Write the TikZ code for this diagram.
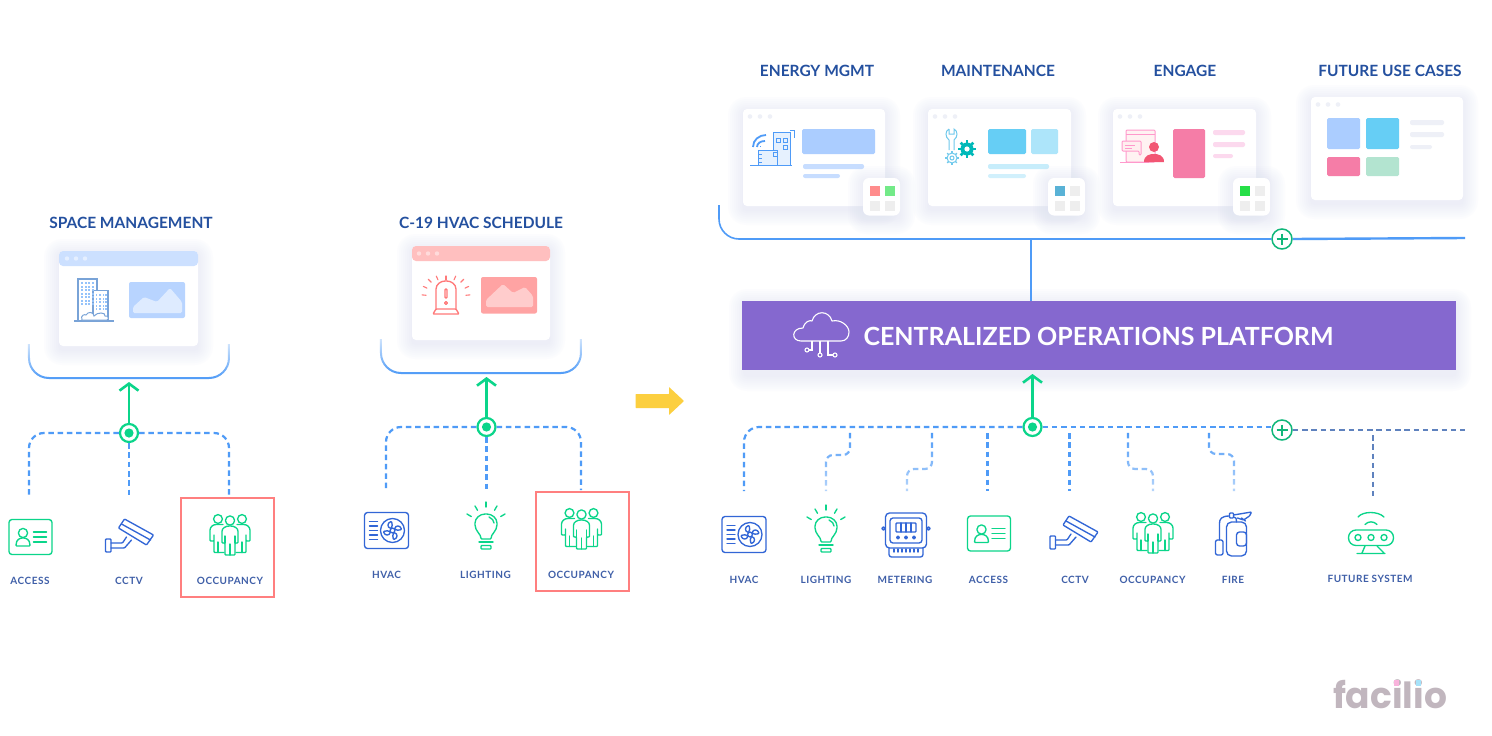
\documentclass[tikz,border=0pt]{standalone}
\usepackage{fontspec}
\setmainfont{Lato}
\newfontfamily\labelfont[LetterSpace=5]{Lato}
\newfontfamily\logofont{Poppins}
\usetikzlibrary{arrows.meta,fadings}

\definecolor{titleBlue}{HTML}{24509F}
\definecolor{labelBlue}{HTML}{3F5FA8}
\definecolor{lineBlue}{HTML}{4F9BF7}
\definecolor{darkBus}{HTML}{5F82BE}
\definecolor{hubGreen}{HTML}{0BD58A}
\definecolor{plusGreen}{HTML}{10B77A}
\definecolor{iconBlue}{HTML}{3266D6}
\definecolor{boxRed}{HTML}{FF7F7F}
\definecolor{platformPurple}{HTML}{8568CF}
\definecolor{shadowBlue}{HTML}{D5DAF2}
\definecolor{dotGrey}{HTML}{EEF0F7}
\definecolor{tileGrey}{HTML}{EEEEEE}

\tikzfading[name=fadedrop, top color=transparent!0, bottom color=transparent!60]
\tikzfading[name=fadeup, bottom color=transparent!0, top color=transparent!75]

\tikzset{
  titletext/.style={font=\fontsize{15.5}{18}\selectfont\bfseries, text=titleBlue, inner sep=0pt},
  labeltext/.style={font=\fontsize{10}{12}\labelfont\bfseries, text=labelBlue, inner sep=0pt},
  bracketline/.style={draw=lineBlue, line width=2pt, rounded corners=20pt, path fading=fadeup},
  busline/.style={draw=lineBlue, line width=2.2pt, dash pattern=on 5.5pt off 3.8pt},
  dropline/.style={busline, rounded corners=7pt, path fading=fadedrop},
  greenarrow/.style={draw=hubGreen, line width=2.6pt, -{Straight Barb[length=7pt,width=19pt,line width=2.6pt]}},
  hubnode/.style={circle, draw=hubGreen, fill=white, line width=2.2pt, minimum size=18pt, inner sep=0pt},
  plusnode/.style={circle, draw=plusGreen, fill=white, line width=1.5pt, minimum size=20pt, inner sep=0pt},
  redbox/.style={draw=boxRed, line width=1.8pt},
  iconline/.style={line width=1.35pt, line join=round, line cap=round, rounded corners=0.8pt},
  % les icones
  pics/iconAccess/.style={code={
    \draw [iconline, hubGreen, rounded corners=3pt] (-21.5,-17.5) rectangle (21.5,17.5);
    \draw [iconline, hubGreen] (-7.5,-4) circle (4.6);
    \draw [iconline, hubGreen] (-14.5,9) .. controls (-14.5,2) and (-10,1) .. (-7.5,1) .. controls (-5,1) and (-0.5,2) .. (-0.5,9) -- cycle;
    \foreach \ly in {-5,0,5} \draw [iconline, hubGreen] (3,\ly) -- (16,\ly);
  }},
  pics/iconCctv/.style={code={
    \draw [iconline, iconBlue] (-11,-8) -- (-5,-17) -- (24,-1) -- (17,9) -- cycle;
    \draw [iconline, iconBlue] (-8,-12) -- (21,4);
    \draw [iconline, iconBlue] (-24,3) rectangle (-18.5,16);
    \draw [iconline, iconBlue] (-18.5,7) -- (-7,7) -- (-3,1) (-18.5,12) -- (-5,12) -- (2,4);
  }},
  pics/iconPeople/.style={code={
    \draw [iconline, hubGreen] (-12,-16) circle (4.4) (12,-16) circle (4.4);
    \draw [iconline, hubGreen] (-7,-10.5) -- (-13,-10.5) .. controls (-17,-10.5) and (-20,-8) .. (-20,-4) -- (-20,6) -- (-16,6) -- (-16,0) (-16,6) -- (-16,17.5) -- (-6,17.5);
    \draw [iconline, hubGreen] (7,-10.5) -- (13,-10.5) .. controls (17,-10.5) and (20,-8) .. (20,-4) -- (20,6) -- (16,6) -- (16,0) (16,6) -- (16,17.5) -- (6,17.5);
    \draw [iconline, hubGreen] (-11,-16) (-12,17.5) -- (-12,7);
    \draw [iconline, hubGreen] (12,17.5) -- (12,7);
    \draw [iconline, fill=white, draw=hubGreen] (0,-14.5) circle (4.6);
    \draw [iconline, fill=white, draw=hubGreen] (-8,8) -- (-8,-3) .. controls (-8,-7) and (-4,-9) .. (0,-9) .. controls (4,-9) and (8,-7) .. (8,-3) -- (8,8) -- (5,8) -- (5,20) -- (-5,20) -- (-5,8) -- cycle;
    \draw [iconline, hubGreen] (0,20) -- (0,9) (-5,8) -- (-5,1) (5,8) -- (5,1);
  }},
  pics/iconBulb/.style={code={
    \draw [iconline, hubGreen] (-5,14) .. controls (-5,9) and (-11,6) .. (-11,-1) .. controls (-11,-7) and (-6,-11) .. (0,-11) .. controls (6,-11) and (11,-7) .. (11,-1) .. controls (11,6) and (5,9) .. (5,14) -- cycle;
    \draw [iconline, hubGreen] (3,-8) .. controls (6,-7) and (8,-4) .. (8,-2);
    \foreach \a/\ra in {-90/18,-60/17,-120/17,-30/17,-150/17}
      \draw [iconline, hubGreen] (\a:\ra) -- (\a:\ra+5);
    \draw [iconline, hubGreen] (-7,17) -- (7,17);
    \draw [iconline, hubGreen] (-5,20.5) rectangle (5,24);
  }},
  pics/iconFan/.style={code={
    \draw [iconline, iconBlue, rounded corners=3pt] (-22,-18) rectangle (22,18);
    \foreach \ly in {-9,-4.5,0,4.5,9} \draw [iconline, iconBlue] (-17,\ly) -- (-9,\ly);
    \draw [iconline, iconBlue] (6,0) circle (12);
    \draw [iconline, iconBlue] (6,0) circle (2.4);
    \foreach \a in {0,90,180,270}
      \draw [iconline, iconBlue, shift={(6,0)}, rotate=\a] (2,-1.5) .. controls (3,-6) and (8,-5) .. (9,-1) .. controls (6,0) and (4,0) .. (2,-1.5);
  }},
  pics/iconMeter/.style={code={
    \draw [iconline, iconBlue, rounded corners=4pt] (-20.5,-22) rectangle (20.5,13);
    \draw [iconline, iconBlue, rounded corners=3pt] (-16,-17) rectangle (16,8);
    \draw [iconline, iconBlue] (-10,-12) rectangle (10,-3);
    \foreach \lx in {-5,0,5} \draw [iconline, iconBlue] (\lx,-12) -- (\lx,-3);
    \foreach \lx in {-8,0,8} \draw [iconline, iconBlue] (\lx,2.5) circle (1.4);
    \draw [iconline, iconBlue] (-22.5,-6.5) circle (1.6) (22.5,-6.5) circle (1.6);
    \draw [iconline, iconBlue, rounded corners=2.5pt] (-17,13) -- (-17,22) -- (17,22) -- (17,13);
    \foreach \lx in {-12,-8,...,12} \draw [iconline, iconBlue] (\lx,14) -- (\lx,17);
  }},
  pics/iconFire/.style={code={
    \draw [iconline, iconBlue, rounded corners=5pt] (-7,-12) rectangle (13,22);
    \draw [iconline, iconBlue] (3,-12) .. controls (3,-16) and (2,-17) .. (0,-17);
    \draw [iconline, iconBlue] (-4,-21) rectangle (0,-16);
    \draw [iconline, iconBlue] (0,-19) -- (6,-20) -- (18,-22) -- (16,-18) -- (10,-14) -- (4,-16) (8,-16) -- (12,-13);
    \draw [iconline, iconBlue, rounded corners=3pt] (3,-2) -- (13,-2) -- (13,12) -- (3,12) -- cycle;
    \draw [iconline, iconBlue] (-4,-18) .. controls (-12,-18) and (-14,-15) .. (-14,-10) -- (-14,6);
    \draw [iconline, iconBlue, rounded corners=2pt] (-18,6) rectangle (-10.5,21);
  }},
  pics/iconFuture/.style={code={
    \draw [iconline, hubGreen, rounded corners=7.5pt] (-22.5,-3) rectangle (22.5,12.5);
    \foreach \lx in {-13,0,13} \draw [iconline, hubGreen] (\lx,4.5) circle (3);
    \draw [iconline, hubGreen] (-13,-16) .. controls (-8,-22) and (7,-22) .. (13,-16);
    \draw [iconline, hubGreen] (-6,-8.5) .. controls (-3,-12) and (3,-12) .. (6,-8.5);
    \draw [iconline, hubGreen] (-6,13) -- (-9,20) (6,13) -- (13,20) (-14,20.5) -- (14,20.5);
  }},
  pics/iconCloud/.style={code={
    \draw [line width=1.1pt, white, line join=round] (-20,14) .. controls (-30,14) and (-30,1) .. (-18,1) .. controls (-16,-6) and (-11,-7) .. (-9,-6) .. controls (-6,-17) and (8,-17) .. (11,-6) .. controls (20,-8) and (28,-1) .. (28,5) .. controls (28,10) and (25,14) .. (20,14) -- cycle;
    \draw [line width=1.1pt, white] (-9,14) -- (-9,23) -- (-12,23) (-1,14) -- (-1,26) (7,14) -- (7,28) -- (12,28) (-1,26) -- (-1,26);
    \draw [line width=1.1pt, white] (-14,23) circle (2) (-1,28) circle (2) (14,28) circle (2);
  }},
  pics/iconTowers/.style={code={
    \draw [line width=1.1pt, draw=lineBlue!80!black!70] (-20,21) -- (20,21);
    \draw [line width=1.1pt, draw=lineBlue!80!black!70, fill=white] (-16,-21) rectangle (3,21);
    \draw [line width=1.1pt, draw=lineBlue!80!black!70, fill=white] (-1,-9.5) rectangle (14,21);
    \foreach \lx in {-13,-9.5,-6,-2.5} \foreach \ly in {-18,-14.5,...,6} \fill [lineBlue!60] (\lx,\ly) rectangle ++(2,2);
    \foreach \lx in {1.5,5,8.5,11} \foreach \ly in {-6,-2.5,...,11} \fill [lineBlue!60] (\lx,\ly) rectangle ++(1.6,2);
    \draw [line width=1pt, draw=lineBlue!80!black!70, fill=white] (-12,20) .. controls (-14,15) and (-9,14) .. (-8,15) .. controls (-6,11) and (0,12) .. (0,16) .. controls (3,12) and (12,12) .. (11,16) .. controls (15,15) and (15,20) .. (13,20) -- cycle;
  }},
  pics/iconAlarm/.style={code={
    \draw [iconline, boxRed!95!red] (-10,12) -- (-10,-7) .. controls (-10,-13) and (-5,-16) .. (0,-16) .. controls (5,-16) and (10,-13) .. (10,-7) -- (10,12);
    \draw [iconline, boxRed!95!red] (-10,12) -- (-13,17) -- (13,17) -- (10,12) -- cycle;
    \draw [iconline, boxRed!95!red] (-1,-8) rectangle (1,1);
    \draw [iconline, boxRed!95!red] (0,6) circle (1.5);
    \foreach \a/\ra in {-90/17,-65/19,-45/21,-25/21,-5/20,-115/19,-135/21,-155/21,-175/20}
      \draw [iconline, boxRed!95!red, line width=1.1pt] (\a:\ra) -- (\a:\ra+4);
  }},
  pics/iconEnergy/.style={code={
    \draw [line width=1pt, lineBlue, fill=lineBlue!14] (3,-15) rectangle (20,18);
    \draw [line width=1pt, lineBlue, fill=lineBlue!14] (-12,3) rectangle (7,18);
    \draw [line width=1pt, lineBlue] (-20,18) -- (22,18);
    \draw [line width=1pt, lineBlue] (6,-9) rectangle (10,-5) (13,-9) rectangle (17,-5) (13,-2) rectangle (17,2) (3,5) rectangle (7,9);
    \draw [line width=1pt, lineBlue] (20,-17) -- (24,-17) -- (24,-9);
    \draw [line width=1pt, lineBlue] (-10,-1) -- (-10,0);
    \draw [line width=1.8pt, lineBlue] (-13,0) .. controls (-13,-4) and (-9,-6) .. (-5,-6) (-17,0) .. controls (-17,-7) and (-11,-12) .. (-4,-12);
    \foreach \ly in {7,11,15} \draw [line width=.8pt, lineBlue] (-12,\ly) -- (-8,\ly);
  }},
  pics/iconTools/.style={code={
    \draw [line width=1pt, cyan!55!white!90!teal] (-11,-18) -- (-11,-13) -- (-6,-13) -- (-6,-18) .. controls (-2,-16) and (-2,-10) .. (-6,-7) -- (-6,3) (-11,3) -- (-11,-7) .. controls (-15,-10) and (-15,-16) .. (-11,-18);
    \draw [line width=1pt, cyan!55!white!90!teal] (-8,11) circle (5) (-8,11) circle (2);
    \foreach \a in {0,45,...,315} \draw [line width=1.4pt, cyan!55!white!90!teal] (-8,11) ++(\a:5) -- ++(\a:1.8);
    \fill [teal!55!cyan] (7,2) circle (6.5);
    \foreach \a in {0,45,...,315} \draw [line width=2.8pt, teal!55!cyan] (7,2) -- ++(\a:9);
    \fill [white] (7,2) circle (2.6);
  }},
  pics/iconChat/.style={code={
    \draw [line width=1pt, pink!80!magenta, rounded corners=1pt, fill=pink!20] (-17,-17) rectangle (12,15);
    \draw [line width=1pt, pink!80!magenta] (-17,-13) -- (12,-13) (-23,15) -- (6,15);
    \draw [line width=1pt, pink!80!magenta, rounded corners=1pt, fill=pink!25] (-21,-6) -- (-2,-6) -- (-2,8) -- (-4,8) -- (-4,4) -- (-21,4) -- cycle;
    \draw [line width=.8pt, pink!80!magenta] (-18,-2) -- (-8,-2) (-18,1) -- (-11,1);
    \fill [magenta!40!pink!70!red] (11,0) circle (5);
    \fill [magenta!40!pink!70!red] (1,15) .. controls (1,8) and (7,7) .. (11,7) .. controls (15,7) and (21,8) .. (21,15) -- cycle;
  }},
}

% ombre douce sous les fenetres
\newcommand{\softshadow}[4]{
  \foreach \s in {1,3,...,15}
    \fill [shadowBlue, opacity=0.055, rounded corners=\s pt+3pt] (#1-\s,#2-\s+3) rectangle (#3+\s,#4+\s+4);
}
% fenetre blanche avec ses trois points
\newcommand{\cardwin}[5][dotGrey]{
  \softshadow{#2}{#3}{#4}{#5}
  \fill [white, rounded corners=4pt] (#2,#3) rectangle (#4,#5);
  \foreach \d in {7,17,27} \fill [#1] (#2+\d,#3+7.5) circle (2.3);
}
% petite tuile avec quatre cases
\newcommand{\menutile}[4]{
  \softshadow{#1}{#2}{#1+37}{#2+37}
  \fill [white, rounded corners=6pt] (#1,#2) rectangle (#1+37,#2+37.5);
  \fill [#3] (#1+6.5,#2+8) rectangle ++(10,10);
  \fill [#4] (#1+21.5,#2+8) rectangle ++(10,10);
  \fill [tileGrey] (#1+6.5,#2+23) rectangle ++(10,10);
  \fill [tileGrey] (#1+21.5,#2+23) rectangle ++(10,10);
}

\begin{document}
\begin{tikzpicture}[x=1pt,y=-1pt]

\fill [white] (0,0) rectangle (1492,736);
\useasboundingbox (0,0) rectangle (1492,736);

%% partie 1 : space management
   \node [titletext] (titleSpace) at (131,223) {SPACE MANAGEMENT};
   \softshadow{59}{251}{198}{346}
   \fill [white, rounded corners=4pt] (59,251) rectangle (198,346);
   \fill [blue!60!cyan!20, rounded corners=4pt] (59,251) -- (198,251) -- (198,266) -- (59,266) -- cycle;
   \foreach \d in {8,17,26} \fill [white, opacity=.5] (59+\d,258.5) circle (2.2);
   \pic at (94,300) {iconTowers};
   \fill [blue!60!cyan!28, rounded corners=2pt] (129,282) rectangle (185,318);
   \fill [white, opacity=.55, rounded corners=1.5pt] (133,307) -- (144,297) -- (157,302) -- (170,288) -- (182,302) -- (182,313) -- (133,313) -- cycle;
   \draw [bracketline] (29,344) -- (29,378) -- (229,378) -- (229,344);

   \node [hubnode] (hubSpace) at (129,433) {};
   \fill [hubGreen] (hubSpace) circle (4.6);
   \coordinate (tipSpace) at (129,382);
   \path [greenarrow] (hubSpace) edge (tipSpace);
   \coordinate (dropAccessA) at (29,495);
   \coordinate (dropCctvA) at (129,495);
   \coordinate (dropOccupA) at (229,495);
   \draw [busline, rounded corners=15pt] (hubSpace.west) -| (dropAccessA);
   \draw [busline, rounded corners=15pt] (hubSpace.east) -| (dropOccupA);
   \draw [busline] (hubSpace.south) -- (dropCctvA);

   \node [draw=boxRed, line width=1.8pt, minimum width=93pt, minimum height=99pt, inner sep=0pt] (boxOccupA) at (227.5,547.5) {};
   \pic at (30.5,537) {iconAccess};
   \pic at (129.5,536) {iconCctv};
   \pic at (230,535) {iconPeople};
   \node [labeltext] (labAccessA) at (30,581) {ACCESS};
   \node [labeltext] (labCctvA) at (129,581) {CCTV};
   \node [labeltext] (labOccupA) at (230,581) {OCCUPANCY};

%% partie 2 : c-19 hvac schedule
   \node [titletext] (titleHvac) at (481,223) {C-19 HVAC SCHEDULE};
   \softshadow{412}{246}{550}{340}
   \fill [white, rounded corners=4pt] (412,246) rectangle (550,340);
   \fill [boxRed!50, rounded corners=4pt] (412,246) -- (550,246) -- (550,261) -- (412,261) -- cycle;
   \foreach \d in {7,16,25} \fill [white, opacity=.45] (412+\d,253.5) circle (2.2);
   \pic at (446,297) {iconAlarm};
   \fill [boxRed!72, rounded corners=2pt] (481,277) rectangle (537,313.5);
   \fill [white, opacity=.45, rounded corners=1.5pt] (486,300) -- (503,284) -- (513,293) -- (525,287) -- (533,296) -- (533,307) -- (486,307) -- cycle;
   \draw [bracketline] (381,339) -- (381,373) -- (581,373) -- (581,339);

   \node [hubnode] (hubHvac) at (486.5,427) {};
   \fill [hubGreen] (hubHvac) circle (4.6);
   \coordinate (tipHvac) at (486.5,377);
   \path [greenarrow] (hubHvac) edge (tipHvac);
   \coordinate (dropFanB) at (386,490);
   \coordinate (dropBulbB) at (486.5,490);
   \coordinate (dropOccupB) at (581,490);
   \draw [busline, rounded corners=15pt] (hubHvac.west) -| (dropFanB);
   \draw [busline, rounded corners=15pt] (hubHvac.east) -| (dropOccupB);
   \draw [busline] (hubHvac.south) -- (dropBulbB);

   \node [draw=boxRed, line width=1.8pt, minimum width=93pt, minimum height=99pt, inner sep=0pt] (boxOccupB) at (582.5,541.5) {};
   \pic at (386.5,530.5) {iconFan};
   \pic at (486,525) {iconBulb};
   \pic at (581.5,529) {iconPeople};
   \node [labeltext] (labFanB) at (386.5,575) {HVAC};
   \node [labeltext] (labBulbB) at (485.5,575) {LIGHTING};
   \node [labeltext] (labOccupB) at (581,575) {OCCUPANCY};

%% fleche jaune
   \fill [yellow!55!orange!75!white, rounded corners=.5pt] (635.5,394) -- (669,394) -- (669,387) -- (684,401) -- (669,415) -- (669,408) -- (635.5,408) -- cycle;

%% partie 3 : plateforme
   \node [titletext] (titleEnergy) at (817,71) {ENERGY MGMT};
   \node [titletext] (titleMaint) at (998,71) {MAINTENANCE};
   \node [titletext] (titleEngage) at (1185,71) {ENGAGE};
   \node [titletext] (titleFuture) at (1390,71) {FUTURE USE CASES};

   %fenetre energy
   \cardwin{743}{109}{885}{206}
   \pic at (770,147) {iconEnergy};
   \fill [blue!60!cyan!33, rounded corners=1.5pt] (802,129) rectangle (875,154);
   \fill [blue!60!cyan!22, rounded corners=2pt] (803,164) rectangle (864,169);
   \fill [blue!60!cyan!22, rounded corners=2pt] (803,174) rectangle (840,178);
   \menutile{863}{178}{boxRed!90}{green!70!teal!55}

   %fenetre maintenance
   \cardwin{928}{109}{1071}{206}
   \pic at (960,147) {iconTools};
   \fill [cyan!60, rounded corners=1.5pt] (988,129) rectangle (1026,154);
   \fill [cyan!32, rounded corners=1.5pt] (1031,129) rectangle (1058,154);
   \fill [cyan!22, rounded corners=2pt] (988,164) rectangle (1049,169);
   \fill [cyan!18, rounded corners=2pt] (988,174) rectangle (1026,178);
   \menutile{1048}{178}{cyan!60!teal!75}{tileGrey}

   %fenetre engage
   \cardwin{1113}{109}{1256}{206}
   \pic at (1143,147) {iconChat};
   \fill [magenta!35!pink, rounded corners=1.5pt] (1173,129) rectangle (1205,178);
   \fill [magenta!15!white, rounded corners=2pt] (1213,130) rectangle (1245,135);
   \fill [magenta!15!white, rounded corners=2pt] (1213,142) rectangle (1245,147);
   \fill [magenta!15!white, rounded corners=2pt] (1213,154) rectangle (1233,158);
   \menutile{1233}{178}{green!70!teal!85}{tileGrey}

   %fenetre future
   \cardwin{1311}{97}{1463}{200}
   \fill [blue!60!cyan!33, rounded corners=1.5pt] (1327,118) rectangle (1360,149);
   \fill [cyan!60, rounded corners=1.5pt] (1366,118) rectangle (1399,149);
   \fill [magenta!35!pink, rounded corners=1.5pt] (1327,157) rectangle (1360,176);
   \fill [cyan!38!green!30!white, rounded corners=1.5pt] (1366,157) rectangle (1399,176);
   \fill [dotGrey, rounded corners=2pt] (1410,120) rectangle (1444,125);
   \fill [dotGrey, rounded corners=2pt] (1410,132) rectangle (1444,137);
   \fill [dotGrey, rounded corners=2pt] (1410,145) rectangle (1432,149);

   %ligne du haut
   \node [plusnode] (plusTop) at (1282,239) {};
   \draw [plusGreen, line width=1.3pt] (plusTop.center) ++(-5.5,0) -- ++(11,0) (plusTop.center) ++(0,-5.5) -- ++(0,11);
   \coordinate (bracketStart) at (719,205);
   \coordinate (bracketEnd) at (1465,238);
   \draw [lineBlue, line width=1.6pt, rounded corners=20pt] (bracketStart) |- (plusTop.west);
   \path [lineBlue, line width=2.4pt] (plusTop.east) edge (bracketEnd);

   %plateforme
   \softshadow{744}{301}{1456}{372}
   \node [fill=platformPurple, minimum width=714pt, minimum height=69pt, inner sep=0pt] (platform) at (1099,335.5) {};
   \coordinate (tapTop) at (1031,238);
   \path [lineBlue, line width=1.5pt] (tapTop) edge (tapTop |- platform.north);
   \pic at (821,327) {iconCloud};
   \node [font=\fontsize{25}{30}\selectfont\bfseries, text=white, inner sep=0pt] (platformText) at (1098.5,336.5) {CENTRALIZED OPERATIONS PLATFORM};

   %bus du bas
   \node [hubnode] (hubPlat) at (1032.5,427) {};
   \fill [hubGreen] (hubPlat) circle (4.6);
   \coordinate (tipPlat) at (1032.5,374);
   \path [greenarrow] (hubPlat) edge (tipPlat);
   \node [plusnode] (plusBus) at (1282,430) {};
   \draw [plusGreen, line width=1.3pt] (plusBus.center) ++(-5.5,0) -- ++(11,0) (plusBus.center) ++(0,-5.5) -- ++(0,11);

   \coordinate (dropFan) at (744,491);
   \coordinate (dropAccess) at (987.5,491);
   \coordinate (dropCctv) at (1069.5,491);
   \coordinate (busEnd) at (1465,430);
   \coordinate (futureTap) at (1373,435);
   \coordinate (dropFuture) at (1373,498);

   \draw [busline, rounded corners=15pt] (hubPlat.west) -| (dropFan);
   \draw [busline] (hubPlat.east) -- (plusBus.west |- hubPlat.east);
   \draw [busline, darkBus] (plusBus.east) -- (busEnd);
   \draw [busline, darkBus] (futureTap) -- (dropFuture);
   \draw [busline] (987.5,433) -- (dropAccess);
   \draw [busline] (1069.5,433) -- (dropCctv);

   \draw [dropline] (850,433) -- (850,455) -- (826,455) -- (826,491);
   \draw [dropline] (932,433) -- (932,469) -- (907,469) -- (907,491);
   \draw [dropline] (1128,433) -- (1128,469) -- (1153,469) -- (1153,491);
   \draw [dropline] (1209,433) -- (1209,454) -- (1234,454) -- (1234,491);

   \pic at (744,534.5) {iconFan};
   \pic at (826,528) {iconBulb};
   \pic at (906,535) {iconMeter};
   \pic at (989,533.5) {iconAccess};
   \pic at (1074,533) {iconCctv};
   \pic at (1153,533) {iconPeople};
   \pic at (1233.5,534) {iconFire};
   \pic at (1371,533) {iconFuture};

   \node [labeltext] (labFan) at (744,580) {HVAC};
   \node [labeltext] (labBulb) at (826,580) {LIGHTING};
   \node [labeltext] (labMeter) at (905,580) {METERING};
   \node [labeltext] (labAccess) at (988.5,580) {ACCESS};
   \node [labeltext] (labCctv) at (1075,580) {CCTV};
   \node [labeltext] (labOccup) at (1152.5,580) {OCCUPANCY};
   \node [labeltext] (labFire) at (1233,580) {FIRE};
   \node [labeltext] (labFuture) at (1370,579) {FUTURE SYSTEM};

%% logo
   \node [font=\fontsize{36}{40}\logofont\bfseries, text=blue!25!purple!15!gray!50, inner sep=0pt] (logo) at (1390,694) {facilio};
   \fill [magenta!30!white] (1393.5,680) rectangle ++(5.5,5.5);
   \fill [cyan!35!white] (1415.5,680) rectangle ++(5.5,5.5);

\end{tikzpicture}
\end{document}
